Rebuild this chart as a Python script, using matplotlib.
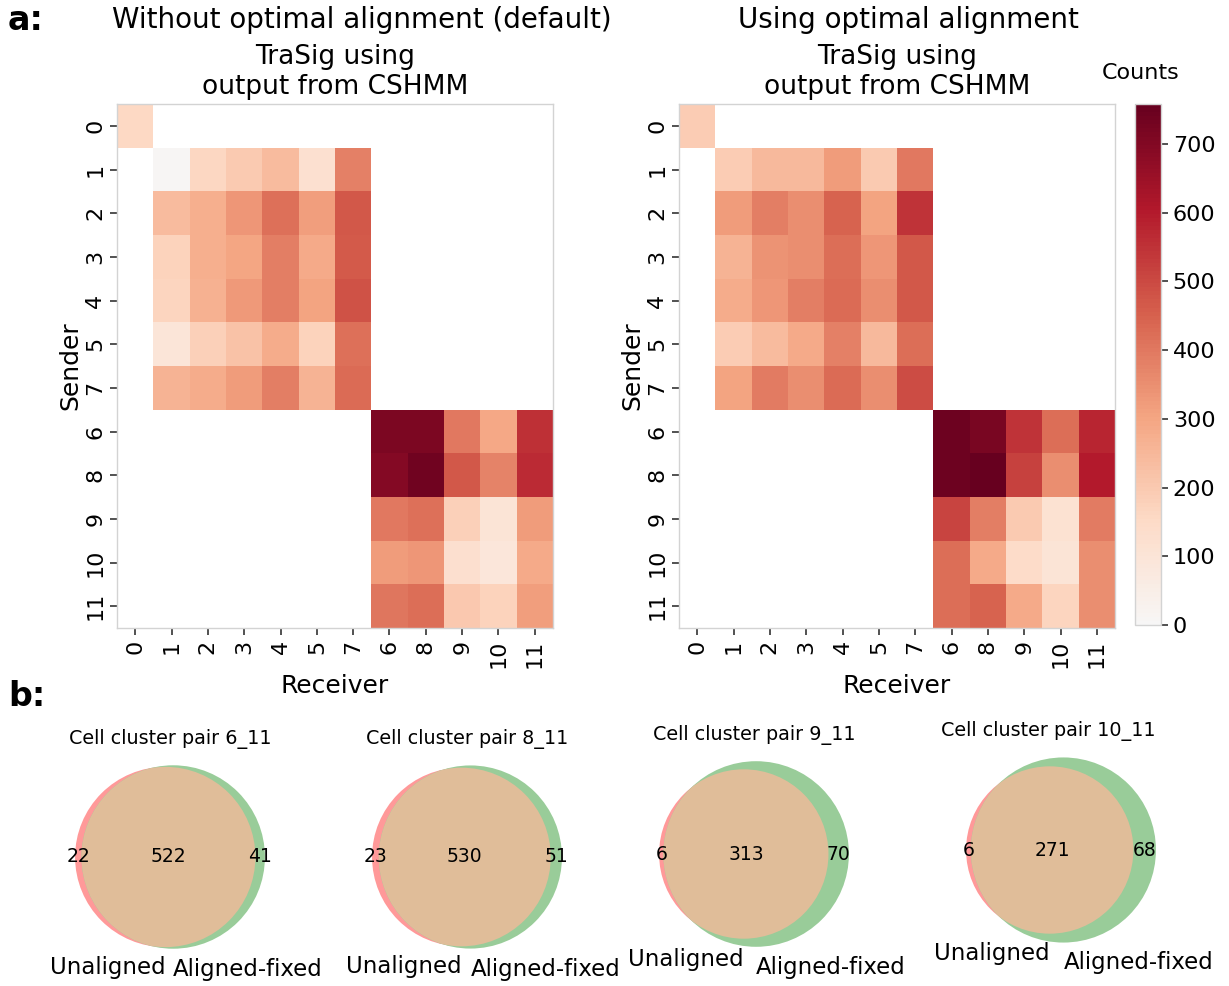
import numpy as np
import pandas as pd
import matplotlib
matplotlib.use("Agg")
import matplotlib.pyplot as plt
from matplotlib.patches import Circle
import seaborn as sns

# cluster order used on both axes of the heatmaps
clusters = ['0', '1', '2', '3', '4', '5', '7', '6', '8', '9', '10', '11']
group_a = ['1', '2', '3', '4', '5', '7']
group_b = ['6', '8', '9', '10', '11']

# counts, without optimal alignment (default)
default_self0 = 155
default_a = [
    [10, 160, 200, 240, 120, 380],
    [240, 275, 335, 420, 315, 470],
    [175, 275, 300, 390, 290, 465],
    [170, 270, 330, 390, 305, 480],
    [95, 180, 220, 280, 175, 420],
    [265, 280, 320, 385, 265, 430],
]
default_b = [
    [715, 715, 400, 295, 555],
    [695, 740, 470, 375, 565],
    [400, 415, 180, 105, 325],
    [325, 335, 125, 90, 285],
    [405, 425, 205, 175, 315],
]

# counts, using optimal alignment
aligned_self0 = 190
aligned_a = [
    [190, 245, 245, 325, 200, 400],
    [320, 390, 355, 450, 305, 550],
    [265, 340, 355, 425, 335, 470],
    [280, 335, 385, 430, 355, 470],
    [195, 240, 290, 380, 245, 425],
    [305, 395, 355, 430, 355, 495],
]
aligned_b = [
    [745, 720, 550, 425, 580],
    [745, 758, 520, 350, 600],
    [510, 390, 200, 115, 395],
    [425, 290, 145, 105, 355],
    [425, 445, 290, 170, 355],
]

# venn diagrams: only unaligned, only aligned-fixed, shared
pair_names = ['6_11', '8_11', '9_11', '10_11']
only_unaligned = [22, 23, 6, 6]
only_aligned = [41, 51, 70, 68]
shared = [522, 530, 313, 271]

W, H = 1229, 986
plt.rcParams['font.family'] = 'DejaVu Sans'
fig = plt.figure(figsize=(W / 100, H / 100), dpi=100)


def px_axes(x0, y0, x1, y1):
    return fig.add_axes([x0 / W, 1 - y1 / H, (x1 - x0) / W, (y1 - y0) / H])


def px_text(x, y, s, **kw):
    return fig.text(x / W, 1 - y / H, s, **kw)


def build_matrix(self0, block_a, block_b):
    df = pd.DataFrame(np.nan, index=clusters, columns=clusters)
    df.loc['0', '0'] = self0
    df.loc[group_a, group_a] = np.array(block_a, dtype=float)
    df.loc[group_b, group_b] = np.array(block_b, dtype=float)
    return df


vmax = 758
ax1 = px_axes(117, 104, 553, 628)
ax2 = px_axes(679, 104, 1115, 628)
cax = px_axes(1135, 104, 1161, 625)

panels = [
    (ax1, build_matrix(default_self0, default_a, default_b)),
    (ax2, build_matrix(aligned_self0, aligned_a, aligned_b)),
]
for i, (ax, df) in enumerate(panels):
    sns.heatmap(df, ax=ax, cmap='RdBu_r', center=0, vmin=0, vmax=vmax,
                cbar=(i == 1), cbar_ax=cax if i == 1 else None)
    ax.set_title('TraSig using\noutput from CSHMM', fontsize=19, pad=7)
    ax.set_xlabel('Receiver', fontsize=18)
    ax.set_ylabel('Sender', fontsize=18, labelpad=2)
    ax.set_xticklabels(clusters, rotation=90, fontsize=16)
    ax.set_yticklabels(clusters, rotation=90, fontsize=16, va='center')
    ax.tick_params(length=5, width=1.2, color='#333333')
    for s in ax.spines.values():
        s.set_visible(True)
        s.set_color('#d3d3d3')
        s.set_linewidth(1)

cbar = ax2.collections[0].colorbar
cbar.set_ticks(np.arange(0, 701, 100))
cbar.ax.tick_params(labelsize=16, length=5, width=1.2, color='#333333')
cbar.outline.set_edgecolor('#d3d3d3')
cbar.outline.set_linewidth(1)
cbar.ax.set_title('Counts', fontsize=16, pad=18, x=0.2)

px_text(362, 20, 'Without optimal alignment (default)', fontsize=20,
        ha='center', va='center')
px_text(908, 20, 'Using optimal alignment', fontsize=20, ha='center', va='center')
px_text(8, 20, 'a:', fontsize=24, fontweight='bold', va='center')
px_text(8, 697, 'b:', fontsize=24, fontweight='bold', va='center')


def lens_area(r1, r2, d):
    if d >= r1 + r2:
        return 0.0
    if d <= abs(r1 - r2):
        return np.pi * min(r1, r2) ** 2
    a1 = r1 ** 2 * np.arccos((d ** 2 + r1 ** 2 - r2 ** 2) / (2 * d * r1))
    a2 = r2 ** 2 * np.arccos((d ** 2 + r2 ** 2 - r1 ** 2) / (2 * d * r2))
    a3 = 0.5 * np.sqrt((-d + r1 + r2) * (d + r1 - r2) * (d - r1 + r2) * (d + r1 + r2))
    return a1 + a2 - a3


def circle_distance(r1, r2, target):
    lo, hi = abs(r1 - r2), r1 + r2
    for _ in range(100):
        mid = 0.5 * (lo + hi)
        if lens_area(r1, r2, mid) > target:
            lo = mid
        else:
            hi = mid
    return 0.5 * (lo + hi)


red = '#ff9999'
green = '#99cc99'
mixed = '#e0bd99'
venn_centers = [(170, 857), (467, 857), (754, 854), (1061, 850)]
title_shift = [0, 0, 0, -13]
box = 223

for k in range(4):
    total = only_unaligned[k] + only_aligned[k] + shared[k]
    area_a = (only_unaligned[k] + shared[k]) / total
    area_b = (only_aligned[k] + shared[k]) / total
    area_ab = shared[k] / total
    ra, rb = np.sqrt(area_a / np.pi), np.sqrt(area_b / np.pi)
    d = circle_distance(ra, rb, area_ab)
    xa, xb = -d / 2, d / 2
    com = (xa * ra ** 2 + xb * rb ** 2) / (ra ** 2 + rb ** 2)
    xa, xb = xa - com, xb - com

    cx, cy = venn_centers[k]
    ax = px_axes(cx - box / 2, cy - box / 2, cx + box / 2, cy + box / 2)
    ax.set_xlim(min(xa - ra, xb - rb) - 0.1, max(xa + ra, xb + rb) + 0.1)
    ax.set_ylim(-max(ra, rb) - 0.1, max(ra, rb) + 0.1)
    ax.set_aspect('equal')
    ax.set_axis_off()

    ax.add_patch(Circle((xa, 0), ra, facecolor=red, edgecolor='none'))
    ax.add_patch(Circle((xb, 0), rb, facecolor=green, edgecolor='none'))
    clip = Circle((xb, 0), rb, transform=ax.transData)
    overlap = Circle((xa, 0), ra, facecolor=mixed, edgecolor='none')
    ax.add_patch(overlap)
    overlap.set_clip_path(clip)

    ax.text(((xa - ra) + (xb - rb)) / 2, 0, str(only_unaligned[k]),
            fontsize=13.5, ha='center', va='center')
    ax.text(((xa + ra) + (xb + rb)) / 2, 0, str(only_aligned[k]),
            fontsize=13.5, ha='center', va='center')
    ax.text(((xb - rb) + (xa + ra)) / 2, 0, str(shared[k]),
            fontsize=13.5, ha='center', va='center')

    pad = 0.1 * (ra + rb) / 2
    ax.text(xa, -ra - pad, 'Unaligned', fontsize=16.5, ha='right', va='top')
    ax.text(xb, -rb - pad, 'Aligned-fixed', fontsize=16.5, ha='left', va='top')
    t = ax.set_title('Cell cluster pair ' + pair_names[k], fontsize=13.8, pad=3)
    t.set_x(0.5 + title_shift[k] / box)

fig.savefig('out.png', dpi=100)
